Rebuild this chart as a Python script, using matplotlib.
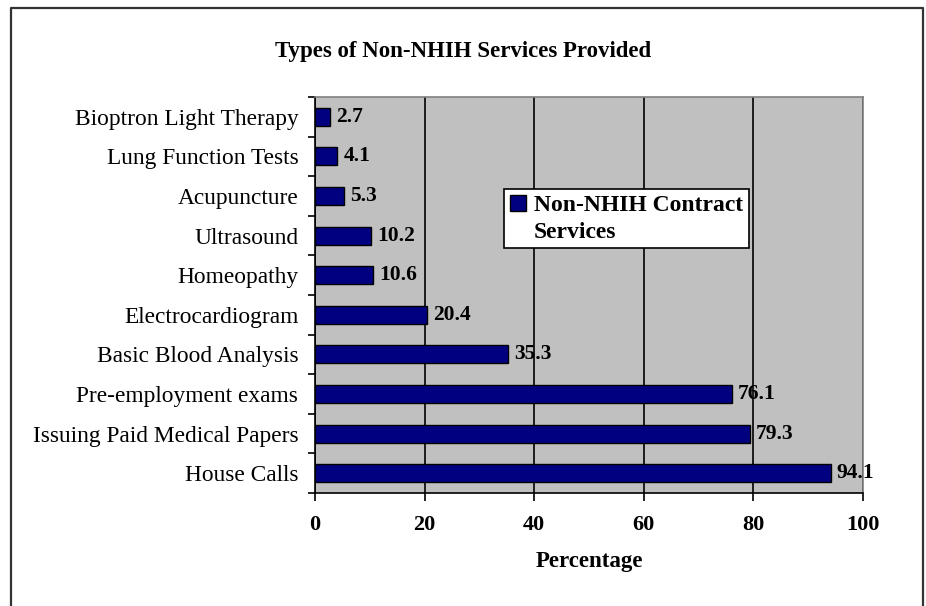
#!/usr/bin/env python3
# -*- coding: utf-8 -*-

import matplotlib
matplotlib.use('Agg')
import matplotlib.pyplot as plt
from matplotlib.patches import Patch, Rectangle
from matplotlib.lines import Line2D
import numpy

# categories listed from bottom to top, as the bars are drawn
services = ['House Calls', 'Issuing Paid Medical Papers', 'Pre-employment exams',
            'Basic Blood Analysis', 'Electrocardiogram', 'Homeopathy',
            'Ultrasound', 'Acupuncture', 'Lung Function Tests',
            'Bioptron Light Therapy']
percent = [94.1, 79.3, 76.1, 35.3, 20.4, 10.6, 10.2, 5.3, 4.1, 2.7]
xticks = [0, 20, 40, 60, 80, 100]

title = 'Types of Non-NHIH Services Provided'
series_name = ['Non-NHIH Contract', 'Services']


def main():
    plt.rcParams['font.family'] = ['Liberation Serif', 'DejaVu Serif']
    plt.rcParams['font.size'] = 15

    fig = plt.figure(figsize=(9.26, 6.06), dpi=100)
    W, H = 926, 606
    # plot area in pixels: left 315, right 863, top 97, bottom 493
    ax = fig.add_axes([315 / W, 1 - 493 / H, (863 - 315) / W, (493 - 97) / H])
    ax.set_facecolor('#c0c0c0')

    # outer frame around the chart (bottom edge is cut off in the picture)
    fig.add_artist(Line2D([11 / W, 11 / W, 923 / W, 923 / W],
                          [-0.01, 1 - 8 / H, 1 - 8 / H, -0.01],
                          transform=fig.transFigure, color='#333333', lw=1.6))

    y = numpy.arange(len(services))
    bars = ax.barh(y, percent, height=0.45, color='#000080',
                   edgecolor='black', linewidth=1.0, zorder=3)
    for bar, val in zip(bars, percent):
        ax.text(bar.get_width() + 1.1, bar.get_y() + bar.get_height() / 2,
                f'{val:.1f}', va='center', ha='left', fontsize=15.5,
                fontweight='bold', zorder=4)

    ax.set_xlim(0, 100)
    ax.set_ylim(-0.5, len(services) - 0.5)
    ax.set_xticks(xticks)
    ax.set_xticklabels([str(t) for t in xticks], fontweight='bold', fontsize=16)
    ax.set_yticks(y)
    ax.set_yticklabels(services, fontsize=16.8)
    ax.tick_params(axis='y', which='major', length=0, pad=12)
    ax.set_yticks(numpy.arange(len(services) + 1) - 0.5, minor=True)
    ax.tick_params(axis='y', which='minor', length=5, width=1.2,
                   direction='out', color='black')
    ax.tick_params(axis='x', length=6, width=1.2, direction='out', pad=10)

    ax.xaxis.grid(True, color='black', linewidth=1.2, zorder=1)
    ax.set_axisbelow(True)

    for side in ['left', 'bottom']:
        ax.spines[side].set_color('black')
        ax.spines[side].set_linewidth(1.2)
    for side in ['top', 'right']:
        ax.spines[side].set_color('#808080')
        ax.spines[side].set_linewidth(1.2)

    ax.set_xlabel('Percentage', fontweight='bold', fontsize=16.5, labelpad=11)
    fig.text(463 / W, 1 - 51 / H, title, ha='center', va='center',
             fontweight='bold', fontsize=16.5)

    handles = [Patch(facecolor='#000080', edgecolor='black', linewidth=1.0),
               Rectangle((0, 0), 1, 1, visible=False)]
    leg = ax.legend(handles, series_name, loc='upper left',
                    bbox_to_anchor=(0.345, 0.768), frameon=True,
                    fancybox=False, edgecolor='black', framealpha=1,
                    prop={'weight': 'bold', 'size': 17},
                    handlelength=0.7, handleheight=0.7, handletextpad=0.3,
                    labelspacing=0.2, borderpad=0.25, borderaxespad=0)
    leg.get_frame().set_linewidth(1.2)
    leg.set_zorder(5)

    fig.savefig('out.png', dpi=100)
    plt.close(fig)


if __name__ == '__main__':
    main()
